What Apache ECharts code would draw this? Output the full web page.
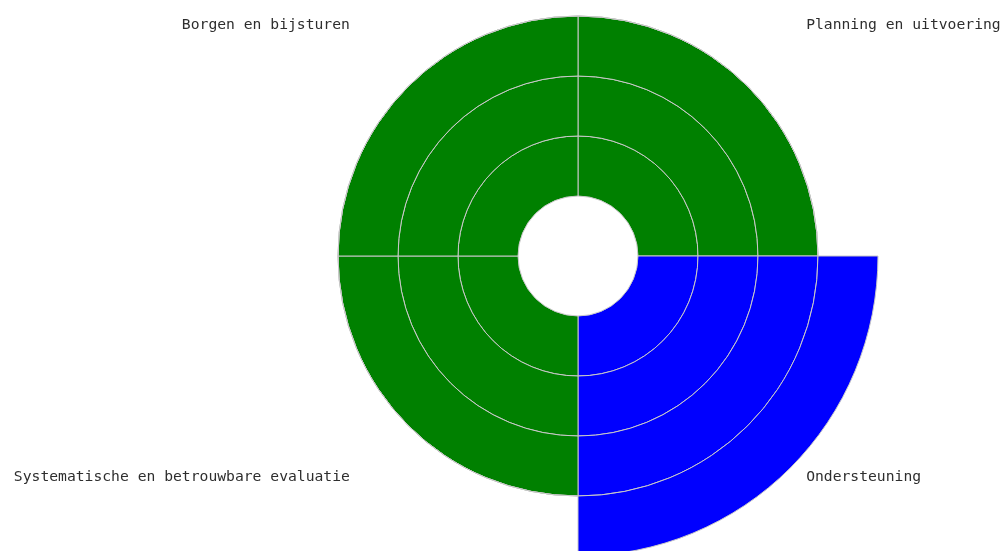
<!DOCTYPE html>
<html>
<head>
<meta charset="utf-8">
<script src="https://cdn.jsdelivr.net/npm/echarts@6/dist/echarts.min.js"></script>
<style>html,body{margin:0;padding:0;background:#fff;}#c{width:1003px;height:551px;}</style>
</head>
<body>
<div id="c"></div>
<script>
const categories = ['Planning en uitvoering', 'Ondersteuning', 'Systematische en betrouwbare evaluatie', 'Borgen en bijsturen'];
const scores = [3, 4, 3, 3];
const colors = ['#008000', '#0000ff', '#008000', '#008000'];
const maxLevel = 4;

const chart = echarts.init(document.getElementById('c'));
const series = [];
for (let k = 1; k <= maxLevel; k++) {
  series.push({
    type: 'bar',
    coordinateSystem: 'polar',
    stack: 'levels',
    barCategoryGap: '0%',
    silent: true,
    data: scores.map((s, i) => ({
      value: s >= k ? 1 : 0,
      itemStyle: { color: colors[i] }
    })),
    itemStyle: { borderColor: '#c8c8c8', borderWidth: 1 }
  });
}
const labelFont = { fontFamily: 'DejaVu Sans Mono', fontSize: 14.7, color: '#2e2e2e' };
chart.setOption({
  animation: false,
  polar: { center: [578, 256], radius: [60, 300] },
  radiusAxis: { min: 0, max: maxLevel, show: false },
  angleAxis: {
    type: 'category',
    data: categories,
    startAngle: 90,
    clockwise: true,
    axisLine: { show: false },
    axisTick: { show: false },
    splitLine: { show: false },
    axisLabel: {
      margin: 0,
      formatter: function (value, index) {
        return '{p' + index + '|' + value + '}';
      },
      rich: {
        p0: Object.assign({ padding: [0, 0, 11, 16] }, labelFont),
        p1: Object.assign({ padding: [2, 0, 0, 16] }, labelFont),
        p2: Object.assign({ padding: [2, 16, 0, 0] }, labelFont),
        p3: Object.assign({ padding: [0, 16, 11, 0] }, labelFont)
      }
    }
  },
  series: series
});
</script>
</body>
</html>
